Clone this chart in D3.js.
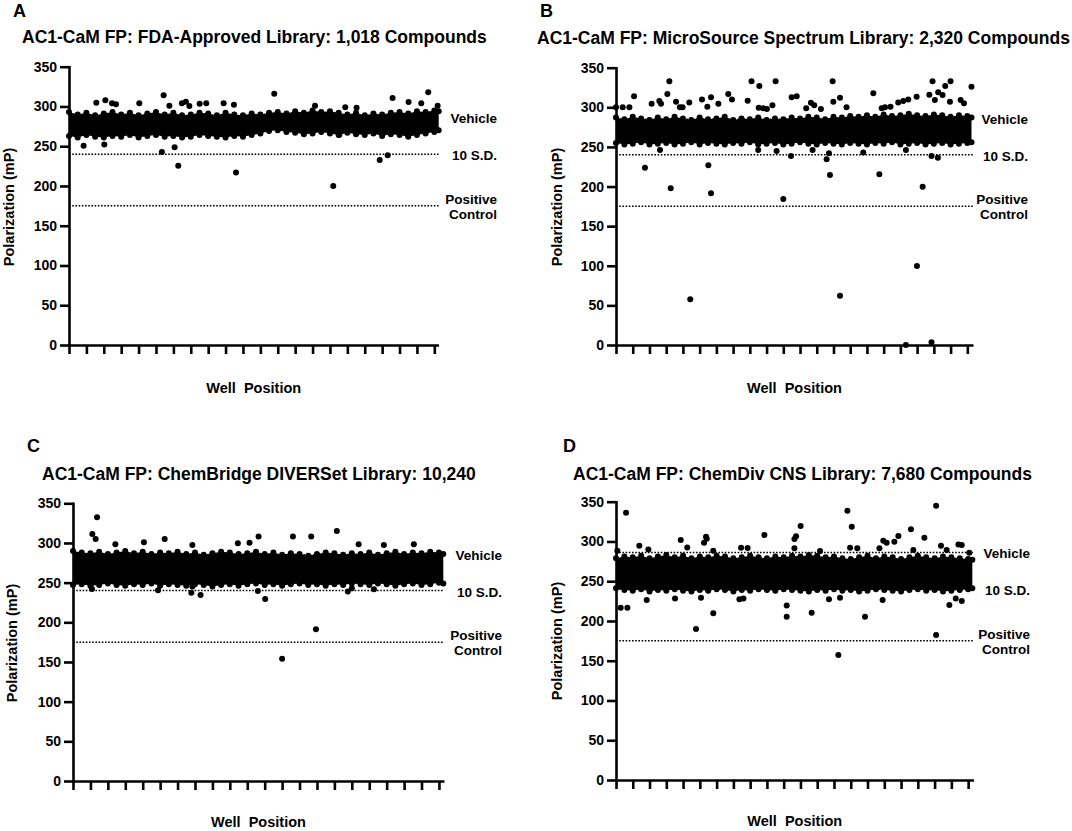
<!DOCTYPE html>
<html>
<head>
<meta charset="utf-8">
<script src="https://cdn.jsdelivr.net/npm/d3@7"></script>
<style>
  body { margin: 0; background: #fff; }
  svg text { font-family: "Liberation Sans", Arial, sans-serif; font-weight: bold; fill: #000; }
</style>
</head>
<body>
<svg id="fig" width="1072" height="831"></svg>
<script>
// y ticks shared by all four panels
const yTicks = [0, 50, 100, 150, 200, 250, 300, 350]
// well position ticks (no labels)
const wellTicks = d3.range(22)

// reference lines (mP)
const vehicleLine = 285
const vehicleLineD = 286
const sdLine = 240
const posLine = 175

// dense cloud envelope (dot centres), read every half tick
const bandK = [0,0.5,1,1.5,2,2.5,3,3.5,4,4.5,5,5.5,6,6.5,7,7.5,8,8.5,9,9.5,10,10.5,11,11.5,12,12.5,13,13.5,14,14.5,15,15.5,16,16.5,17,17.5,18,18.5,19,19.5,20,20.5,21,21.25]

// A: FDA-approved
const fdaHi = [293,290,292,289,291,293,290,292,289,291,293,290,292,289,290,292,291,289,292,290,289,291,290,292,293,291,294,292,295,293,294,292,290,292,289,291,290,292,293,291,294,293,295,294]
const fdaLo = [263,261,264,262,261,263,262,264,261,263,264,262,263,261,262,264,263,262,261,263,262,264,266,269,270,268,267,265,266,268,266,264,267,265,264,266,263,265,264,262,264,266,268,270]
const fdaOutK = [1.57,2.09,2.47,2.70,4.04,5.44,5.77,6.49,6.72,6.92,7.51,7.89,8.89,9.48,11.8,14.14,15.88,16.53,18.6,19.52,20.25,20.65,21.19,
  0.84,2.03,5.34,6.07,6.28,9.6,15.54,15.19,17.86,18.32]
const fdaOutV = [304.8,307.7,304,302.7,304,314,301,304,306,300.6,303.5,304,304,302.3,316,301,299,298.5,310.7,305.7,304,317.8,301,
  250.7,252,242.8,248.6,225.5,216.8,264.5,200,232.7,238.6]

// B: MicroSource Spectrum
const msHi = [287,285,288,286,284,287,285,288,286,284,287,285,286,288,284,286,285,287,284,286,285,287,286,288,287,285,288,287,289,288,290,288,291,289,290,292,290,289,291,290,288,290,289,287]
const msLo = [255,253,254,256,253,254,255,253,254,256,253,255,254,253,255,254,256,253,254,255,253,254,256,254,253,255,254,253,255,254,253,255,254,256,253,254,255,253,254,255,253,254,255,256]
const msOutK = [0,0.4,0.8,1.08,2.13,2.59,2.69,3.07,3.19,3.59,3.82,3.98,4.38,5.14,5.46,5.68,6.12,6.71,6.93,7.87,8.1,8.57,8.53,8.8,9.02,9.35,9.54,
  10.5,10.8,11.37,11.65,11.85,12.25,12.95,12.99,13.39,13.78,15.38,15.88,16.08,16.41,16.87,17.17,17.47,17.97,18.73,18.92,19.06,19.26,19.52,19.68,20.0,19.96,20.6,20.8,21.25,
  2.63,8.5,9.6,10.46,11.75,12.59,12.73,14.78,17.33,18.86,19.24,
  1.73,5.52,3.27,5.68,10.0,12.79,15.74,18.33,17.99,4.44,13.39,17.33,18.86]
const msOutV = [300,300,300,314,304.6,308,304.6,316.8,332.8,307,300,300,306,310,300.8,312.6,304.6,316.8,310,308.4,332.8,327,299.5,298.7,297.9,302.5,332.8,
  312.6,314,298.7,305.8,302.5,297.9,332.8,307,312.2,300,317.6,298.7,300,300.8,306,308,310,313.4,316,332.8,309.2,319,315.5,327,332.8,307,309.2,305,326,
  246,246,245,238.5,246,234.3,242,243,246,238.5,236.4,
  223.8,226.8,197.7,191.4,184.3,214.6,215.4,199.8,99.7,57.6,62.3,0,3.4]

// C: ChemBridge DIVERSet
const cbHi = [290,288,287,289,286,288,290,287,289,286,288,287,289,286,288,285,287,289,288,286,287,289,286,288,285,287,286,284,286,288,287,285,287,286,288,285,287,289,286,288,287,289,288,286]
const cbLo = [247,248,246,247,249,247,246,248,247,249,246,248,247,246,248,247,245,247,248,246,248,249,247,248,246,248,249,247,248,246,248,247,249,248,247,249,248,246,248,249,247,248,250,249]
const cbOutK = [1.11,1.38,1.30,2.43,4.07,5.26,6.85,9.46,10.13,10.65,12.62,13.67,15.14,16.39,17.84,19.56,
  1.09,4.88,6.79,7.32,6.85,10.61,11.03,15.77,16.0,17.27,13.94,12.0]
const cbOutV = [311.3,332.4,305,298.3,300.8,305,297.5,299.6,300.4,308,308,308,315,298.3,297.5,298.3,
  242,240.3,237.4,234.5,245,239.5,229.4,238.7,242.9,241.6,191.2,154.2]

// D: ChemDiv CNS
const cdHi = [279,281,280,282,279,281,283,280,282,279,281,280,282,281,279,280,282,280,279,281,280,282,281,283,282,280,281,279,278,280,282,279,281,280,278,280,282,280,279,281,280,279,278,277]
const cdLo = [241,239,238,240,237,239,238,240,238,237,239,238,240,239,237,239,238,240,239,238,240,239,238,237,239,238,240,238,239,237,238,240,239,238,237,239,240,238,239,237,238,239,240,241]
const cdOutK = [0.08,0.6,1.39,1.93,3.86,4.25,5.25,5.37,5.41,5.8,7.46,7.85,8.85,10.64,10.74,11.01,10.64,12.17,13.8,14.06,13.96,14.39,15.71,15.94,16.14,16.6,16.84,17.59,17.73,18.39,19.09,19.38,19.72,20.42,20.62,21.07,
  0.28,0.68,1.83,3.52,4.77,5.07,5.8,7.36,7.6,10.18,10.18,11.67,12.7,13.26,13.36,14.85,15.9,19.09,19.88,20.26,20.62]
const cdOutV = [288.3,336,294.6,290,301.8,292.5,298.4,306,303.4,288.3,292,291.7,308,303,306.4,319.4,291.3,288,338.6,318.5,292,291.3,291.3,301,298.4,299.7,306.8,315.2,289.2,304.7,345,294.6,289.2,296.3,295.5,285.8,
  216.7,216.7,226.3,228.4,189.9,229.3,209.6,227.2,228.4,219.6,205.4,210.4,227.2,157.2,229.3,205.4,226.3,182.3,220,228.4,225]

const titles = [
  'AC1-CaM FP: FDA-Approved Library: 1,018 Compounds',
  'AC1-CaM FP: MicroSource Spectrum Library: 2,320 Compounds',
  'AC1-CaM FP: ChemBridge DIVERSet Library: 10,240',
  'AC1-CaM FP: ChemDiv CNS Library: 7,680 Compounds'
]
const letters = ['A', 'B', 'C', 'D']

const svg = d3.select('#fig')
const R = 3

function panel(p) {
  const g = svg.append('g')
  const x = d3.scaleLinear().domain([0, p.kEnd]).range([p.x0, p.x1])
  const y = d3.scaleLinear().domain([0, 350]).range([p.y0, p.y350])

  g.append('text').text(p.letter).attr('x', p.lx).attr('y', p.ly).style('font-size', '18px')
  g.append('text').text(p.title).attr('x', p.tx).attr('y', p.ty).style('font-size', '17.5px')

  // dotted reference lines, under the points
  p.lines.forEach(v => {
    g.append('line')
      .attr('x1', p.x0).attr('x2', p.x1)
      .attr('y1', y(v)).attr('y2', y(v))
      .attr('stroke', '#000').attr('stroke-width', 1.5)
      .attr('stroke-dasharray', '1.6,1.6')
  })

  // dense cloud: filled envelope + a dot at every envelope sample
  const band = p.hi.map((h, i) => ({k: bandK[i], hi: h, lo: p.lo[i]}))
  g.append('path')
    .datum(band)
    .attr('d', d3.area().x(d => x(d.k)).y0(d => y(d.lo)).y1(d => y(d.hi)))
    .attr('fill', '#000')

  const edge = band.flatMap(d => [{k: d.k, v: d.hi}, {k: d.k, v: d.lo}])
  g.selectAll('circle.edge').data(edge).enter().append('circle')
    .attr('cx', d => x(d.k)).attr('cy', d => y(d.v)).attr('r', R)

  const pts = p.outK.map((k, i) => ({k: k, v: p.outV[i]}))
  g.selectAll('circle.pt').data(pts).enter().append('circle')
    .attr('cx', d => x(d.k)).attr('cy', d => y(d.v)).attr('r', R).attr('fill', '#000')

  // axes
  const ya = g.append('g').attr('transform', `translate(${p.x0},0)`)
    .call(d3.axisLeft(y).tickValues(yTicks).tickSize(9).tickPadding(3).tickSizeOuter(0))
  const xa = g.append('g').attr('transform', `translate(0,${p.y0})`)
    .call(d3.axisBottom(x).tickValues(wellTicks).tickFormat('').tickSize(9).tickSizeOuter(0))
  ;[ya, xa].forEach(a => {
    a.selectAll('path, line').attr('stroke', '#000').attr('stroke-width', 2.6)
    a.selectAll('text').style('font-size', '14px').style('font-family', '"Liberation Sans", Arial, sans-serif').style('font-weight', 'bold')
  })
  ya.select('path').attr('stroke-linecap', 'square')

  g.append('text').text('Polarization (mP)')
    .attr('transform', `translate(${p.yx},${p.yy}) rotate(-90)`)
    .attr('text-anchor', 'middle').style('font-size', '14.5px')
  g.append('text').text('Well  Position')
    .attr('x', (p.x0 + p.x1) / 2).attr('y', p.wy)
    .attr('text-anchor', 'middle').style('font-size', '14.5px').style('white-space', 'pre')

  const lab = (t, yy) => g.append('text').text(t).attr('x', p.rx).attr('y', yy)
    .attr('text-anchor', 'end').style('font-size', '13.5px')
  lab('Vehicle', y(p.veh) + 5)
  lab('10 S.D.', y(sdLine) + 6)
  lab('Positive', y(posLine) - 2)
  lab('Control', y(posLine) + 13)
}

panel({letter: letters[0], title: titles[0], lx: 13, ly: 17, tx: 22, ty: 43,
  x0: 69, x1: 438.5, kEnd: 21.24, y0: 345, y350: 66.7, yx: 14, yy: 207, wy: 393, rx: 497,
  veh: vehicleLine, lines: [vehicleLine, sdLine, posLine], hi: fdaHi, lo: fdaLo, outK: fdaOutK, outV: fdaOutV})
panel({letter: letters[1], title: titles[1], lx: 540, ly: 17, tx: 537, ty: 43.5,
  x0: 616, x1: 973, kEnd: 21.34, y0: 345, y350: 67.7, yx: 562, yy: 207, wy: 393, rx: 1028,
  veh: vehicleLine, lines: [vehicleLine, sdLine, posLine], hi: msHi, lo: msLo, outK: msOutK, outV: msOutV})
panel({letter: letters[2], title: titles[2], lx: 27, ly: 452, tx: 42, ty: 480,
  x0: 73, x1: 444, kEnd: 21.29, y0: 781, y350: 503.3, yx: 16.5, yy: 643, wy: 827, rx: 502,
  veh: vehicleLine, lines: [vehicleLine, sdLine, posLine], hi: cbHi, lo: cbLo, outK: cbOutK, outV: cbOutV})
panel({letter: letters[3], title: titles[3], lx: 563, ly: 452, tx: 573, ty: 479.5,
  x0: 616, x1: 973.5, kEnd: 21.32, y0: 780, y350: 501.7, yx: 562, yy: 641, wy: 826, rx: 1030,
  veh: vehicleLineD, lines: [vehicleLineD, sdLine, posLine], hi: cdHi, lo: cdLo, outK: cdOutK, outV: cdOutV})
</script>
</body>
</html>
